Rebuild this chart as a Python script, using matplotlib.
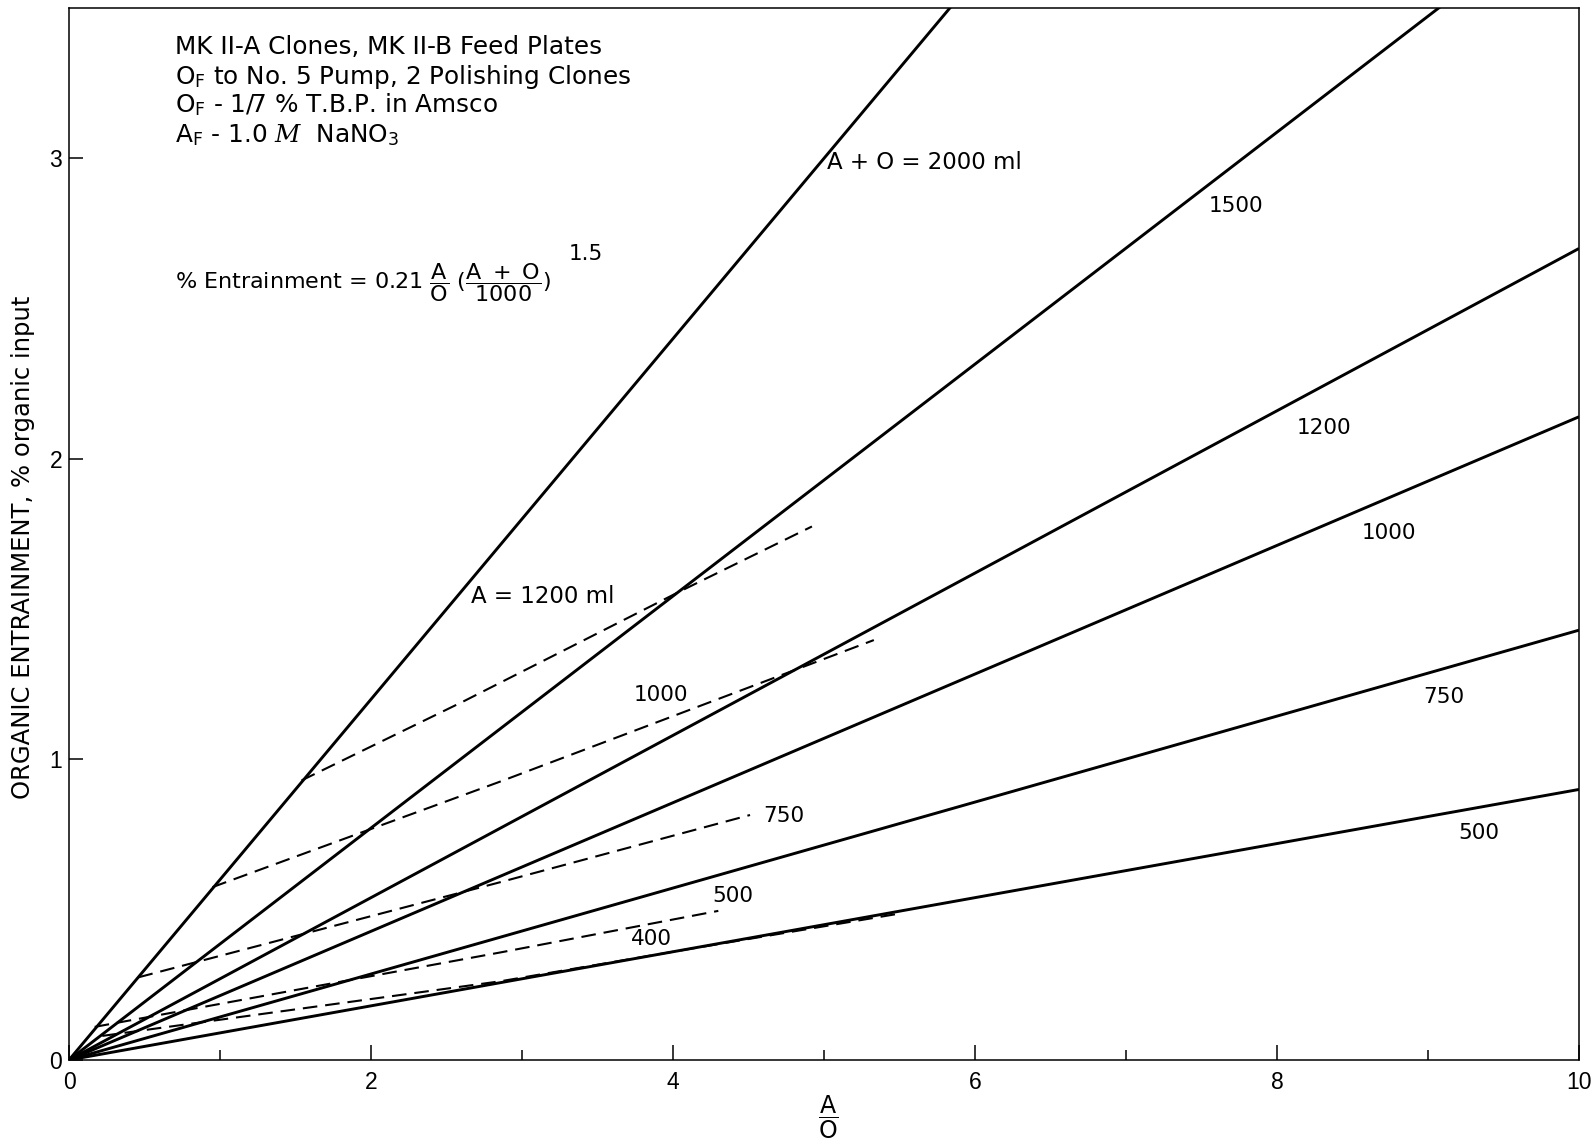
import matplotlib
matplotlib.use("Agg")
import matplotlib.pyplot as plt
from matplotlib.ticker import MultipleLocator

plt.rcParams['font.family'] = ['DejaVu Sans']
plt.rcParams['mathtext.fontset'] = 'custom'
plt.rcParams['mathtext.rm'] = 'DejaVu Sans'
plt.rcParams['mathtext.it'] = 'DejaVu Serif:italic'

# Constant total volume (A + O, ml): straight lines through the origin
total_labels = ["2000", "1500", "1200", "1000", "750", "500"]
total_x = [[0, 5.9], [0, 9.2], [0, 10.0], [0, 10.0], [0, 10.0], [0, 10.0]]
total_y = [[0, 3.54], [0, 3.55], [0, 2.70], [0, 2.14], [0, 1.43], [0, 0.90]]

# Constant aqueous volume (A, ml): dashed curves
aq_labels = ["1200", "1000", "750", "500", "400"]
aq_x = [
    [1.54, 2.62, 4.05, 4.92],
    [0.95, 2.86, 5.33],
    [0.46, 2.86, 4.51],
    [0.17, 2.86, 4.30],
    [0.22, 2.86, 4.00, 5.50],
]
aq_y = [
    [0.93, 1.195, 1.56, 1.775],
    [0.575, 0.927, 1.397],
    [0.275, 0.592, 0.815],
    [0.11, 0.358, 0.496],
    [0.08, 0.262, 0.36, 0.487],
]

x_major = [0, 2, 4, 6, 8, 10]
y_major = [0, 1, 2, 3]

fig = plt.figure(figsize=(15.94, 11.47), dpi=100)
ax = fig.add_axes([0.0433, 0.0759, 0.9906 - 0.0433, 0.993 - 0.0759])

for xs, ys in zip(total_x, total_y):
    ax.plot(xs, ys, color='black', lw=2.1, solid_capstyle='butt')

for xs, ys in zip(aq_x, aq_y):
    ax.plot(xs, ys, color='black', lw=1.5, linestyle=(0, (7, 3.8)))

ax.set_xlim(0, 10)
ax.set_ylim(0, 3.5)
ax.set_xticks(x_major)
ax.set_xticklabels([str(v) for v in x_major])
ax.set_yticks(y_major)
ax.set_yticklabels([str(v) for v in y_major])
ax.xaxis.set_minor_locator(MultipleLocator(1))

ax.tick_params(axis='x', which='major', direction='in', length=11, width=1.1, pad=8,
               labelsize=16.5, labelfontfamily='Liberation Sans')
ax.tick_params(axis='x', which='minor', direction='in', length=7, width=1.1)
ax.tick_params(axis='y', which='major', direction='in', length=10, width=1.1, pad=5,
               labelsize=16.5, labelfontfamily='Liberation Sans')
for sp in ax.spines.values():
    sp.set_linewidth(1.1)

head = dict(fontsize=17.8, color='black')
txt = dict(fontsize=16.5, color='black')
num = dict(fontsize=15.5, color='black')

# Header block
header = [
    r'MK II-A Clones, MK II-B Feed Plates',
    r'O$_\mathrm{F}$ to No. 5 Pump, 2 Polishing Clones',
    r'O$_\mathrm{F}$ - 1/7 % T.B.P. in Amsco',
    r'A$_\mathrm{F}$ - 1.0 $\mathit{M}$  NaNO$_\mathrm{3}$',
]
header_y = [3.347, 3.248, 3.153, 3.055]
for s, yy in zip(header, header_y):
    ax.text(0.70, yy, s, ha='left', va='baseline', **head)

# Correlation
ax.text(0.70, 2.588,
        r'% Entrainment = 0.21 $\dfrac{\mathrm{A}}{\mathrm{O}}$ '
        r'$(\dfrac{\mathrm{A\ +\ O}}{\mathrm{1000}})$',
        ha='left', va='center', fontsize=16, color='black')
ax.text(3.31, 2.66, '1.5', ha='left', va='baseline', **num)

# Curve labels, total volume
ax.text(5.02, 2.966, 'A + O = 2000 ml', ha='left', va='baseline', **txt)
ax.text(7.55, 2.82, total_labels[1], ha='left', va='baseline', **num)
ax.text(8.13, 2.083, total_labels[2], ha='left', va='baseline', **num)
ax.text(8.56, 1.733, total_labels[3], ha='left', va='baseline', **num)
ax.text(8.97, 1.186, total_labels[4], ha='left', va='baseline', **num)
ax.text(9.20, 0.734, total_labels[5], ha='left', va='baseline', **num)

# Curve labels, aqueous volume
ax.text(2.66, 1.522, 'A = 1200 ml', ha='left', va='baseline', **txt)
ax.text(3.74, 1.193, aq_labels[1], ha='left', va='baseline', **num)
ax.text(4.60, 0.792, aq_labels[2], ha='left', va='baseline', **num)
ax.text(4.26, 0.527, aq_labels[3], ha='left', va='baseline', **num)
ax.text(3.72, 0.381, aq_labels[4], ha='left', va='baseline', **num)

# Axis titles
fig.text(23 / 1568, 1 - 538 / 1128, 'ORGANIC ENTRAINMENT, % organic input',
         rotation=90, ha='center', va='center', fontsize=17.5)
fig.text(815 / 1568, 1 - 1099 / 1128, r'$\dfrac{\mathrm{A}}{\mathrm{O}}$',
         ha='center', va='center', fontsize=17)

fig.savefig('out.png', dpi=100)
